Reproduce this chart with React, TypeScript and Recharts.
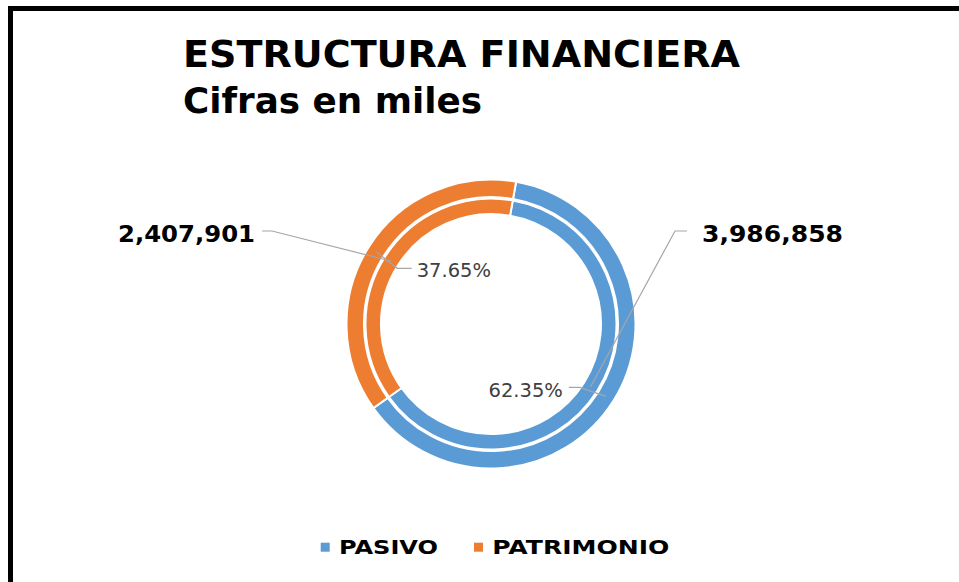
import { PieChart, Pie, Cell } from "recharts";

// Estructura financiera (cifras en miles)
const CATEGORIES = ["PASIVO", "PATRIMONIO"];
const VALUES = [3986858, 2407901];
const COLORS = ["#5B9BD5", "#ED7D31"];

const TITLE = "ESTRUCTURA FINANCIERA";
const SUBTITLE = "Cifras en miles";

const W = 959;
const H = 582;
const CX = 491;
const CY = 324;
const RAD = Math.PI / 180;
const LEADER = "#A6A6A6";

const data = CATEGORIES.map((name, i) => ({ name, value: VALUES[i] }));

function anchor(cx: number, cy: number, r: number, midAngle: number) {
  return {
    x: cx + r * Math.cos(-midAngle * RAD),
    y: cy + r * Math.sin(-midAngle * RAD),
  };
}

// etiquetas de valor (anillo interior)
function ValueLabel(props: any) {
  const { cx, cy, midAngle, innerRadius, outerRadius, value } = props;
  const a = anchor(cx, cy, (innerRadius + outerRadius) / 2, midAngle);
  const right = a.x > cx;
  const ly = cy - 93;
  const elbow = right ? cx + 184 : cx - 219;
  const end = right ? cx + 196 : cx - 229;
  const tx = right ? cx + 211 : cx - 236;
  const txt = Number(value).toLocaleString("en-US");
  return (
    <g>
      <polyline
        points={`${a.x},${a.y} ${elbow},${ly} ${end},${ly}`}
        fill="none"
        stroke={LEADER}
        strokeWidth={1.2}
      />
      <text
        x={tx}
        y={cy - 82.5}
        textAnchor={right ? "start" : "end"}
        fontFamily="'DejaVu Sans', Verdana, sans-serif"
        fontWeight="bold"
        fontSize={23}
        fill="#000"
        textLength={right ? 141 : 137}
        lengthAdjust="spacingAndGlyphs"
      >
        {txt}
      </text>
    </g>
  );
}

// etiquetas de porcentaje (anillo exterior)
function PercentLabel(props: any) {
  const { cx, cy, midAngle, innerRadius, outerRadius, percent } = props;
  const a = anchor(cx, cy, (innerRadius + outerRadius) / 2, midAngle);
  const right = a.x > cx;
  const pts = right
    ? `${a.x},${a.y} ${a.x - 26},${a.y - 9} ${a.x - 37},${a.y - 9}`
    : `${a.x},${a.y} ${a.x + 21},${a.y + 16.7} ${a.x + 35.5},${a.y + 16.7}`;
  return (
    <g>
      <polyline points={pts} fill="none" stroke={LEADER} strokeWidth={1.2} />
      <text
        x={right ? a.x - 43 : a.x + 40.5}
        y={right ? a.y + 0.3 : a.y + 25.7}
        textAnchor={right ? "end" : "start"}
        fontFamily="'DejaVu Sans', Verdana, sans-serif"
        fontSize={19.5}
        fill="#404040"
      >
        {(percent * 100).toFixed(2) + "%"}
      </text>
    </g>
  );
}

const LEGEND_X = [320.7, 474];
const LEGEND_LEN = [99, 177];

export default function App() {
  return (
    <div style={{ position: "relative", width: W, height: H, background: "#fff", overflow: "hidden" }}>
      <style>{`body{margin:0}`}</style>
      <PieChart width={W} height={H} margin={{ top: 0, right: 0, bottom: 0, left: 0 }}>
        <Pie
          data={data}
          dataKey="value"
          nameKey="name"
          cx={CX}
          cy={CY}
          innerRadius={110}
          outerRadius={125.5}
          startAngle={80}
          endAngle={-280}
          stroke="#fff"
          strokeWidth={2}
          label={ValueLabel}
          labelLine={false}
          isAnimationActive={false}
        >
          {data.map((_, i) => (
            <Cell key={i} fill={COLORS[i]} />
          ))}
        </Pie>
        <Pie
          data={data}
          dataKey="value"
          nameKey="name"
          cx={CX}
          cy={CY}
          innerRadius={127}
          outerRadius={144.5}
          startAngle={80}
          endAngle={-280}
          stroke="#fff"
          strokeWidth={2}
          label={PercentLabel}
          labelLine={false}
          isAnimationActive={false}
        >
          {data.map((_, i) => (
            <Cell key={i} fill={COLORS[i]} />
          ))}
        </Pie>
      </PieChart>

      <svg width={W} height={H} style={{ position: "absolute", left: 0, top: 0, pointerEvents: "none" }}>
        {/* marco */}
        <rect x={10.5} y={8.5} width={1200} height={1200} fill="none" stroke="#000" strokeWidth={5} />
        <text
          x={183}
          y={66.5}
          fontFamily="'DejaVu Sans', Verdana, sans-serif"
          fontWeight="bold"
          fontSize={37}
          fill="#000"
          textLength={557}
          lengthAdjust="spacingAndGlyphs"
        >
          {TITLE}
        </text>
        <text
          x={183}
          y={112.5}
          fontFamily="'DejaVu Sans', Verdana, sans-serif"
          fontWeight="bold"
          fontSize={36}
          fill="#000"
          textLength={299}
          lengthAdjust="spacingAndGlyphs"
        >
          {SUBTITLE}
        </text>
        {CATEGORIES.map((name, i) => (
          <g key={name}>
            <rect x={LEGEND_X[i]} y={542.7} width={9} height={9} fill={COLORS[i]} />
            <text
              x={LEGEND_X[i] + 18.3}
              y={554.3}
              fontFamily="'DejaVu Sans', Verdana, sans-serif"
              fontWeight="bold"
              fontSize={19}
              fill="#000"
              textLength={LEGEND_LEN[i]}
              lengthAdjust="spacingAndGlyphs"
            >
              {name}
            </text>
          </g>
        ))}
      </svg>
    </div>
  );
}
